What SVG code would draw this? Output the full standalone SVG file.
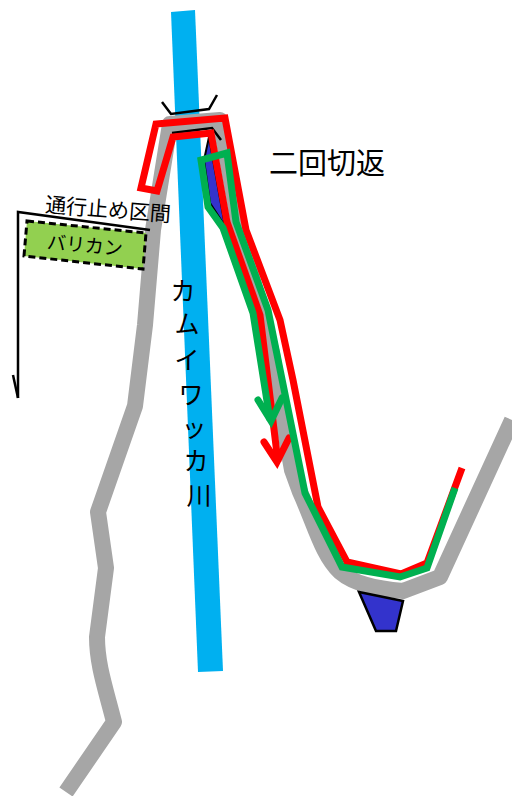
<svg xmlns="http://www.w3.org/2000/svg" width="512" height="796" viewBox="0 0 512 796">
<style>
.l{fill:none;stroke-linejoin:miter}
.g{stroke:#a6a6a6;stroke-width:16;stroke-linejoin:round}
.r{stroke:#ff0000;stroke-width:7}
.e{stroke:#00b050;stroke-width:7}
.k{stroke:#000;stroke-width:2.5}
.v{font-size:25px;text-anchor:middle}
text{font-family:"Noto Sans CJK JP","Noto Sans",sans-serif;fill:#000}
</style>
<rect width="512" height="796" fill="#fff"/>
<g id="river"><polygon points="171,12 195,10 223,671 198,672" fill="#00b0f0"/></g>
<g id="road">
<path class="l g" d="M66,792 L114,722 C106,690 97,665 97,637 L106,568 L98,512 L135,406 L145,325 L153,230 L170,124 L220,120 L240,232 L262,315 L272,353 L283,420 L292,470 L300,492 C315,525 322,555 340,572 C355,585 380,589 403,591 L440,577 L512,420"/>
</g>
<g id="bridge-marks">
<path class="l k" d="M162,102 L171,114 L209,109 L217,95"/>
<path class="l k" d="M172,133 L212,128 L221,140"/>
</g>
<g id="spot-a"><polygon points="209,137 204,160 210,203 225,226" fill="#3333cc" stroke="#000" stroke-width="2"/></g>
<g id="spot-b"><polygon points="359,592 403,601 396,631 376,631" fill="#3333cc" stroke="#000" stroke-width="2.5"/></g>
<g id="connectors">
<path class="l r" d="M462,468 L427,563 L401,574 L347,562 L318,507 L293,380 L280,320 L246,230 L225,118 L156,124 L141,188 L157,191 L173,137 L211,133 L227,222 L260,315 L278,462"/>
<path class="l r" d="M264,442 L277,462 L289,438" stroke-linecap="round"/>
<path class="l e" d="M455,488 L427,568 L400,577 L342,567 L305,493 L268,310 L236,222 L227,153 L201,160 L208,207 L223,228 L253,313 L270,420"/>
<path class="l e" d="M258,400 L271,421 L282,398" stroke-linecap="round"/>
</g>
<g id="closure">
<polyline class="l k" points="18,398 18,212 150,230"/>
<path class="l k" d="M13,375 L18,398"/>
<polygon points="27,221 146,233 143,269 24,256" fill="#92d050" stroke="#000" stroke-width="3" stroke-dasharray="7 4"/>
<text x="85" y="252" font-size="19" text-anchor="middle" transform="rotate(5 85 245)">バリカン</text>
<text x="108" y="217" font-size="21" text-anchor="middle" transform="rotate(4.5 108 210)">通行止め区間</text>
</g>
<g id="labels">
<text x="327" y="174" font-size="29" text-anchor="middle">二回切返</text>
<text class="v" x="183" y="300">カ</text>
<text class="v" x="187" y="333">ム</text>
<text class="v" x="187" y="369">イ</text>
<text class="v" x="191" y="404">ワ</text>
<text class="v" x="194" y="437">ッ</text>
<text class="v" x="196" y="470">カ</text>
<text class="v" x="199" y="505">川</text>
</g>
</svg>
